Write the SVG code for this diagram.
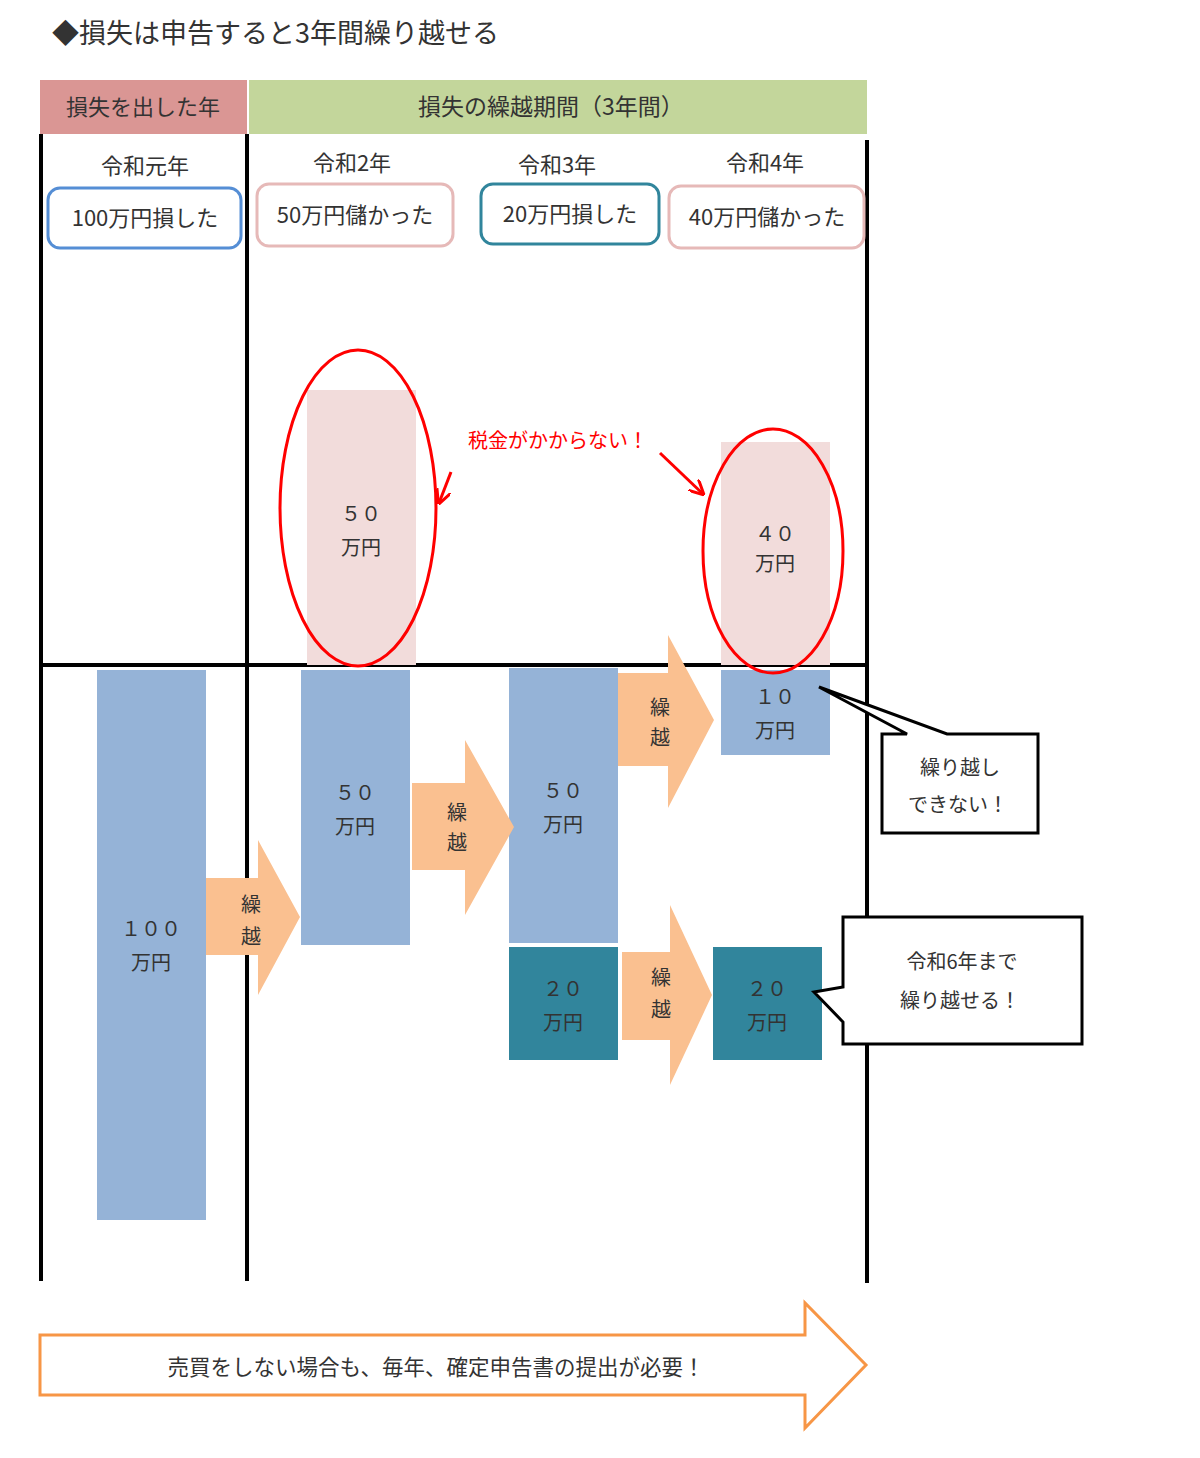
<svg xmlns="http://www.w3.org/2000/svg" width="1200" height="1458" viewBox="0 0 1200 1458">
<defs>
<style>
text{font-family:"Noto Sans CJK JP","Noto Sans",sans-serif;fill:#333;}
.c{text-anchor:middle;}
.t22{font-size:22px;}
.t20{font-size:20px;}
.red{fill:#ff0000;}
.ln{stroke:#000;stroke-width:4;fill:none;}
.bar{fill:#95b3d7;}
.teal{fill:#31859c;}
.pink{fill:#f2dcdb;}
.oarr{fill:#fac090;}
.ell{fill:none;stroke:#ff0000;stroke-width:3;}
.rarr{stroke:#ff0000;stroke-width:3;fill:none;marker-end:url(#rh);}
.call{fill:#fff;stroke:#000;stroke-width:3;stroke-linejoin:miter;}
.bx{fill:#fff;stroke-width:3;}
</style>
<marker id="rh" viewBox="0 0 10 10" refX="9" refY="5" markerWidth="5" markerHeight="5" orient="auto" markerUnits="strokeWidth">
<path d="M0,0 L10,5 L0,10" fill="none" stroke="#ff0000" stroke-width="2"/>
</marker>
</defs>
<rect width="1200" height="1458" fill="#fff"/>

<text id="title" x="52" y="43" style="font-size:27px">◆損失は申告すると3年間繰り越せる</text>

<g id="header-loss">
<rect x="40" y="80" width="207" height="54" fill="#da9694"/>
<text class="c t22" x="143" y="115">損失を出した年</text>
</g>
<g id="header-carry">
<rect x="249" y="80" width="618" height="54" fill="#c3d69b"/>
<text class="c" x="551" y="115" style="font-size:23px">損失の繰越期間（3年間）</text>
</g>

<g id="grid">
<line class="ln" x1="41" y1="134" x2="41" y2="1281"/>
<line class="ln" x1="247" y1="134" x2="247" y2="1281"/>
<line class="ln" x1="867" y1="140" x2="867" y2="1283"/>
<line class="ln" x1="39" y1="665" x2="869" y2="665"/>
</g>

<g id="year1">
<text class="c t22" x="145" y="174">令和元年</text>
<rect class="bx" x="48" y="188" width="193" height="60" rx="12" stroke="#558ed5"/>
<text class="c t22" x="145" y="226">100万円損した</text>
</g>
<g id="year2">
<text class="c t22" x="352" y="171">令和2年</text>
<rect class="bx" x="257" y="184" width="196" height="62" rx="12" stroke="#e6b9b8"/>
<text class="c t22" x="355" y="223">50万円儲かった</text>
</g>
<g id="year3">
<text class="c t22" x="557" y="173">令和3年</text>
<rect class="bx" x="481" y="184" width="178" height="60" rx="12" stroke="#31859c"/>
<text class="c t22" x="570" y="222">20万円損した</text>
</g>
<g id="year4">
<text class="c t22" x="765" y="171">令和4年</text>
<rect class="bx" x="669" y="186" width="195" height="62" rx="12" stroke="#e6b9b8"/>
<text class="c t22" x="767" y="225">40万円儲かった</text>
</g>

<g id="profit50">
<rect class="pink" x="307" y="390" width="109" height="275"/>
<text class="c t20" x="361" y="521">５０</text>
<text class="c t20" x="361" y="555">万円</text>
</g>
<g id="profit40">
<rect class="pink" x="721" y="442" width="109" height="223"/>
<text class="c t20" x="775" y="541">４０</text>
<text class="c t20" x="775" y="571">万円</text>
</g>

<g id="loss100">
<rect class="bar" x="97" y="670" width="109" height="550"/>
<text class="c t20" x="151" y="936">１００</text>
<text class="c t20" x="151" y="970">万円</text>
</g>
<g id="loss50-y2">
<rect class="bar" x="301" y="670" width="109" height="275"/>
<text class="c t20" x="355" y="800">５０</text>
<text class="c t20" x="355" y="834">万円</text>
</g>
<g id="loss50-y3">
<rect class="bar" x="509" y="668" width="109" height="275"/>
<text class="c t20" x="563" y="798">５０</text>
<text class="c t20" x="563" y="832">万円</text>
</g>
<g id="loss20-y3">
<rect class="teal" x="509" y="947" width="109" height="113"/>
<text class="c t20" x="563" y="996">２０</text>
<text class="c t20" x="563" y="1030">万円</text>
</g>
<g id="loss20-y4">
<rect class="teal" x="713" y="947" width="109" height="113"/>
<text class="c t20" x="767" y="996">２０</text>
<text class="c t20" x="767" y="1030">万円</text>
</g>
<g id="loss10">
<rect class="bar" x="721" y="670" width="109" height="85"/>
<text class="c t20" x="775" y="704">１０</text>
<text class="c t20" x="775" y="738">万円</text>
</g>

<g id="carry1">
<polygon class="oarr" points="206,878 258,878 258,840 300,917 258,995 258,955 206,955"/>
<text class="c t20" x="251" y="912">繰</text>
<text class="c t20" x="251" y="944">越</text>
</g>
<g id="carry2">
<polygon class="oarr" points="412,783 465,783 465,740 514,827 465,915 465,870 412,870"/>
<text class="c t20" x="457" y="820">繰</text>
<text class="c t20" x="457" y="850">越</text>
</g>
<g id="carry3">
<polygon class="oarr" points="618,673 668,673 668,635 714,720 668,808 668,766 618,766"/>
<text class="c t20" x="660" y="715">繰</text>
<text class="c t20" x="660" y="745">越</text>
</g>
<g id="carry4">
<polygon class="oarr" points="622,952 670,952 670,905 712,995 670,1085 670,1040 622,1040"/>
<text class="c t20" x="661" y="985">繰</text>
<text class="c t20" x="661" y="1017">越</text>
</g>

<g id="connectors">
<ellipse class="ell" cx="358" cy="508" rx="78" ry="158"/>
<ellipse class="ell" cx="773" cy="551" rx="70" ry="122"/>
<line class="rarr" x1="451" y1="472" x2="439" y2="503"/>
<line class="rarr" x1="660" y1="453" x2="703" y2="494"/>
</g>

<g id="note-tax">
<text class="red t20" x="468" y="448">税金がかからない！</text>
</g>

<g id="callout-nocarry">
<path class="call" d="M882,734 L907,734 L819,687 L947,734 L1038,734 L1038,833 L882,833 Z"/>
<text class="c t20" x="960" y="775">繰り越し</text>
<text class="c t20" x="958" y="812">できない！</text>
</g>
<g id="callout-carry">
<path class="call" d="M843,917 L1082,917 L1082,1044 L843,1044 L843,1022 L814,992 L843,987 Z"/>
<text class="c t20" x="962" y="969">令和6年まで</text>
<text class="c t20" x="960" y="1008">繰り越せる！</text>
</g>

<g id="bottom-arrow">
<polygon points="40,1335 805,1335 805,1303 866,1365 805,1428 805,1395 40,1395" fill="#fff" stroke="#f79646" stroke-width="3"/>
<text class="c" x="436" y="1375" style="font-size:21.5px">売買をしない場合も、毎年、確定申告書の提出が必要！</text>
</g>
</svg>
